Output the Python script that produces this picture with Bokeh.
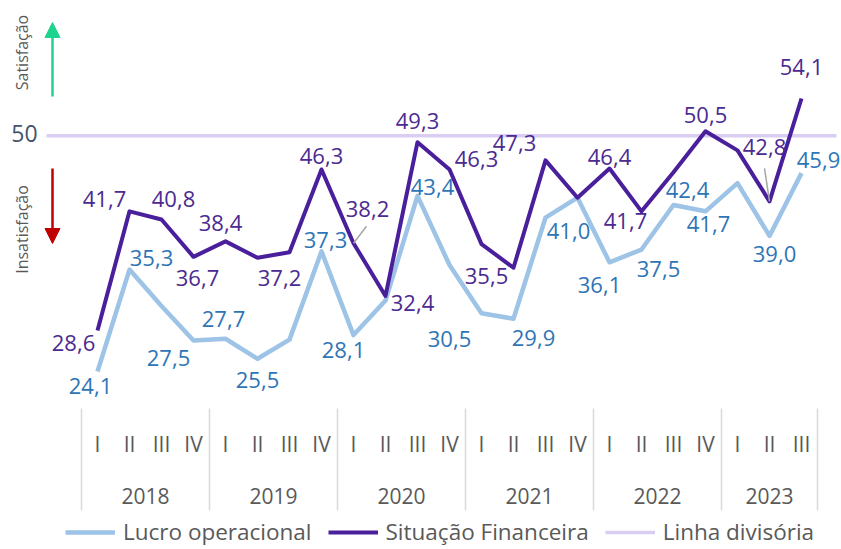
import math
from bokeh.plotting import figure
from bokeh.models import (Range1d, Legend, LegendItem, Arrow, NormalHead,
                          ColumnDataSource)
from bokeh.core.properties import value
from bokeh.embed import file_html
from bokeh.resources import INLINE

# ---------------- data ----------------
years = ["2018", "2019", "2020", "2021", "2022", "2023"]
quarters_per_year = [4, 4, 4, 4, 4, 3]
quarter_names = ["I", "II", "III", "IV"]

lucro = [24.1, 35.3, 31.3, 27.5, 27.7, 25.5, 27.6, 37.3, 28.1, 31.9, 43.4, 35.8,
         30.5, 29.9, 41.0, 43.2, 36.1, 37.5, 42.4, 41.7, 44.8, 39.0, 45.9]
situacao = [28.6, 41.7, 40.8, 36.7, 38.4, 36.6, 37.2, 46.3, 38.2, 32.4, 49.3, 46.3,
            38.1, 35.5, 47.3, 43.2, 46.4, 41.7, 46.0, 50.5, 48.4, 42.8, 54.1]
linha_divisoria = 50

# which points carry a value label (1 = labelled)
lucro_labelled = [1, 1, 0, 1, 1, 1, 0, 1, 1, 0, 1, 0, 1, 1, 1, 0, 1, 1, 1, 1, 0, 1, 1]
situacao_labelled = [1, 1, 1, 1, 1, 0, 1, 1, 1, 1, 1, 1, 0, 1, 1, 0, 1, 1, 0, 1, 0, 1, 1]

# ---------------- styling / label placement (screen px) ----------------
lucro_dx = [-7, 22, 0, -25, -2, 0, 0, 4, -10, 0, 15, 0, -32, 20, 23, 0, -10, 17, 14, 3, 0, 5, 17]
lucro_dy = [15, -12, 0, 17, -20, 21, 0, -11, 15, 0, -9, 0, 26, 19, 13, 0, 23, 19, -15, 13, 0, 18, -13]
sit_dx = [-24, -25, 12, 4, -5, 0, -10, 0, 14, 27, 0, 27, 0, -27, -31, 0, 0, -16, 0, 0, 0, -5, 0]
sit_dy = [12, -12, -21, 21, -18, 0, 26, -13, -34, 7, -21, -10, 0, 8, -17, 0, -12, 10, 0, -16, 0, -54, -31]
# leader lines (index, end offset px)
leaders = [(8, 13, -17), (21, -5, -33)]

FONT = value("Open Sans")
C_LIGHT = "#9DC3E6"
C_LIGHT_TXT = "#2E75B6"
C_DARK = "#4A1F9C"
C_DARK_TXT = "#4B2A91"
C_DIV = "#D9CDF2"
C_GRAY = "#595959"

W, H = 840, 548
PX_X = 32.0     # px per category step
PX_Y = 9.1      # px per unit
X0_PX = 97.0    # px of index 0
Y50_PX = 135.3  # px of value 50

x_range = Range1d(-X0_PX / PX_X, (W - X0_PX) / PX_X)
y_range = Range1d(50 - (H - Y50_PX) / PX_Y, 50 + Y50_PX / PX_Y)

p = figure(width=W, height=H, output_backend="svg", toolbar_location=None,
           x_range=x_range, y_range=y_range, x_axis_location=None,
           y_axis_location=None, min_border=0)
p.grid.visible = False
p.outline_line_color = None
p.background_fill_color = "white"

n = len(lucro)
xs = list(range(n))

def px2x(px):
    return (px - X0_PX) / PX_X

def px2y(py):
    return 50 + (Y50_PX - py) / PX_Y

# dividing line
r_div = p.line(x=[px2x(46), px2x(836)], y=[linha_divisoria, linha_divisoria],
               line_color=C_DIV, line_width=3.5)
# series
r_l = p.line(x=xs, y=lucro, line_color=C_LIGHT, line_width=4.5, line_join="round")
r_s = p.line(x=xs, y=situacao, line_color=C_DARK, line_width=4, line_join="round")

# value labels
def fmt(v):
    return f"{v:.1f}".replace(".", ",")

def label_source(vals, flags, dx, dy):
    d = dict(x=[], y=[], t=[], dx=[], dy=[])
    for i, v in enumerate(vals):
        if flags[i]:
            d["x"].append(i); d["y"].append(v); d["t"].append(fmt(v))
            d["dx"].append(dx[i]); d["dy"].append(dy[i])
    return ColumnDataSource(d)

for src, col in [(label_source(lucro, lucro_labelled, lucro_dx, lucro_dy), C_LIGHT_TXT),
                 (label_source(situacao, situacao_labelled, sit_dx, sit_dy), C_DARK_TXT)]:
    p.text(x="x", y="y", text="t", x_offset="dx", y_offset="dy", source=src,
           text_font=FONT, text_font_size="22px", text_color=col,
           text_align="center", text_baseline="middle")

# leader lines
for i, ex, ey in leaders:
    p.segment(x0=[i], y0=[situacao[i]], x1=[i + ex / PX_X], y1=[situacao[i] - ey / PX_Y],
              line_color="#A6A6A6", line_width=1.5)

# category axis (quarters / years) drawn as text
q_x, q_t = [], []
y_x, y_t = [], []
sep_x = [-0.5]
k = 0
for yr, nq in zip(years, quarters_per_year):
    for q in range(nq):
        q_x.append(k + q); q_t.append(quarter_names[q])
    y_x.append(k + (nq - 1) / 2); y_t.append(yr)
    k += nq
    sep_x.append(k - 0.5)

p.text(x=q_x, y=[px2y(443)] * len(q_x), text=q_t, text_font=FONT,
       text_font_size="21px", text_color=C_GRAY, text_align="center",
       text_baseline="middle")
p.text(x=y_x, y=[px2y(495)] * len(y_x), text=y_t, text_font=FONT,
       text_font_size="21px", text_color=C_GRAY, text_align="center",
       text_baseline="middle")
p.segment(x0=sep_x, y0=[px2y(408)] * len(sep_x), x1=sep_x, y1=[px2y(510)] * len(sep_x),
          line_color="#D9D9D9", line_width=1.5)

# y "axis": 50 label, arrows, rotated texts
p.text(x=[px2x(24)], y=[linha_divisoria], text=[str(linha_divisoria)], text_font=FONT,
       text_font_size="23px", text_color="#44546A", text_align="center",
       text_baseline="middle", y_offset=[-2])
p.text(x=[px2x(21)], y=[px2y(52)], text=["Satisfação"], angle=math.pi / 2,
       text_font=FONT, text_font_size="16px", text_color=C_GRAY,
       text_align="center", text_baseline="middle")
p.text(x=[px2x(21)], y=[px2y(229)], text=["Insatisfação"], angle=math.pi / 2,
       text_font=FONT, text_font_size="16px", text_color=C_GRAY,
       text_align="center", text_baseline="middle")

p.add_layout(Arrow(end=NormalHead(size=15, fill_color="#1ED38E", line_color="#1ED38E"),
                   x_start=px2x(52), y_start=px2y(96), x_end=px2x(52), y_end=px2y(22),
                   line_color="#1ED38E", line_width=2.5))
p.add_layout(Arrow(end=NormalHead(size=15, fill_color="#C00000", line_color="#C00000"),
                   x_start=px2x(52), y_start=px2y(168), x_end=px2x(52), y_end=px2y(243),
                   line_color="#C00000", line_width=2.5))

legend = Legend(items=[LegendItem(label="Lucro operacional", renderers=[r_l]),
                       LegendItem(label="Situação Financeira", renderers=[r_s]),
                       LegendItem(label="Linha divisória", renderers=[r_div])],
                orientation="horizontal", location=(65, 1),
                label_text_font="Open Sans", label_text_font_size="22.5px",
                label_text_color=C_GRAY, glyph_width=50, glyph_height=20,
                label_height=20, label_standoff=8, spacing=16, padding=0, margin=0,
                border_line_color=None, background_fill_alpha=0)
p.add_layout(legend)

open("out.html", "w").write(file_html(p, INLINE))
